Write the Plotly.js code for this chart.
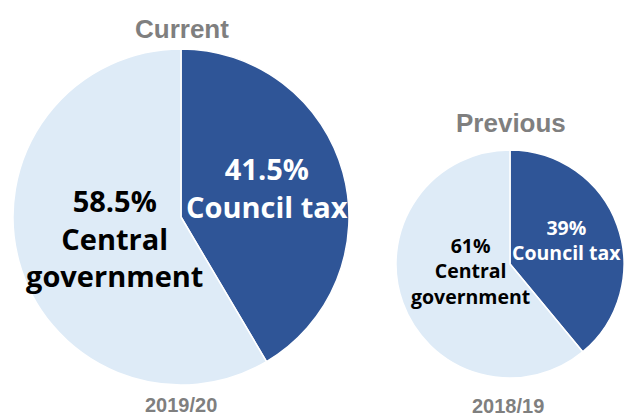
<!DOCTYPE html>
<html>
<head>
<meta charset="utf-8">
<script src="https://cdn.plot.ly/plotly-3.0.1.min.js"></script>
<style>html,body{margin:0;padding:0;background:#fff;}#chart{width:624px;height:417px;}</style>
</head>
<body>
<div id="chart"></div>
<script>
// Data
const categories = ["Council tax", "Central government"];
const labelLines = ["Council tax", "Central<br>government"];
const currentValues = [41.5, 58.5];
const previousValues = [39, 61];
const currentLabel = "Current";
const previousLabel = "Previous";
const currentYear = "2019/20";
const previousYear = "2018/19";

const colors = ["#2F5597", "#DEEBF7"];
const textColors = ["#FFFFFF", "#000000"];
const W = 624, H = 417;
const px = v => v / W;
const py = v => 1 - v / H;

function pieTrace(values, domain) {
  return {
    type: "pie",
    labels: categories,
    values: values,
    sort: false,
    direction: "clockwise",
    rotation: 0,
    textinfo: "none",
    hoverinfo: "label+percent",
    marker: { colors: colors, line: { color: "#FFFFFF", width: 1.5 } },
    domain: domain,
    showlegend: false
  };
}

const data = [
  pieTrace(currentValues, { x: [px(13), px(349)], y: [py(385), py(49)] }),
  pieTrace(previousValues, { x: [px(396), px(624)], y: [py(378), py(150)] })
];

const labelFont = "Open Sans, Noto Sans, sans-serif";
const titleFont = "Liberation Sans, Arial, sans-serif";
function sliceText(values, i) { return "<b>" + values[i] + "%<br>" + labelLines[i] + "</b>"; }

const annotations = [
  { text: "<b>" + currentLabel + "</b>", x: px(182), y: py(29), font: { family: titleFont, size: 26, color: "#7F7F7F" } },
  { text: "<b>" + previousLabel + "</b>", x: px(511), y: py(123), font: { family: titleFont, size: 26, color: "#7F7F7F" } },
  { text: "<b>" + currentYear + "</b>", x: px(181), y: py(405), font: { family: titleFont, size: 20, color: "#7F7F7F" } },
  { text: "<b>" + previousYear + "</b>", x: px(508), y: py(406), font: { family: titleFont, size: 20, color: "#7F7F7F" } },
  { text: sliceText(currentValues, 0), x: px(267), y: py(187), font: { family: labelFont, size: 29, color: textColors[0] } },
  { text: sliceText(currentValues, 1), x: px(114), y: py(238), font: { family: labelFont, size: 29, color: textColors[1] } },
  { text: sliceText(previousValues, 0), x: px(566), y: py(240), font: { family: labelFont, size: 19.5, color: textColors[0] } },
  { text: sliceText(previousValues, 1), x: px(470), y: py(271), font: { family: labelFont, size: 19.5, color: textColors[1] } }
].map(a => Object.assign({ xref: "paper", yref: "paper", xanchor: "center", yanchor: "middle", showarrow: false, align: "center" }, a));

const layout = {
  width: W, height: H,
  margin: { l: 0, r: 0, t: 0, b: 0 },
  paper_bgcolor: "#FFFFFF",
  annotations: annotations,
  showlegend: false
};

Plotly.newPlot("chart", data, layout, { displayModeBar: false, staticPlot: true });
</script>
</body>
</html>
